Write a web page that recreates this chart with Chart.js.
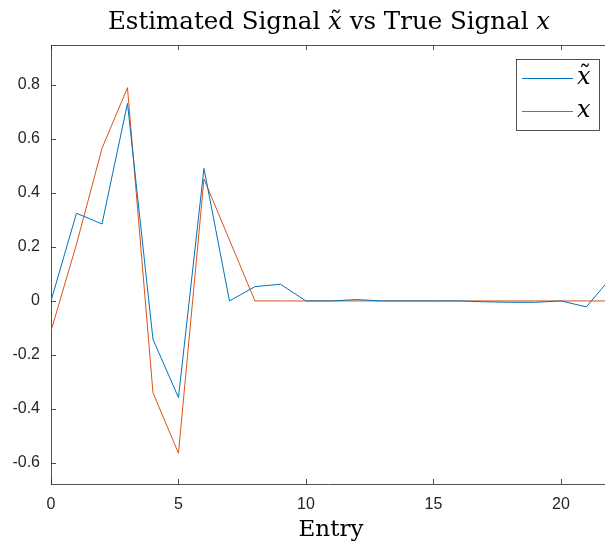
<!DOCTYPE html>
<html>
<head>
<meta charset="utf-8">
<script src="https://cdn.jsdelivr.net/npm/chart.js@4/dist/chart.umd.min.js"></script>
<style>
html,body{margin:0;padding:0;background:#fff;}
#wrap{width:605px;height:545px;position:relative;}
</style>
</head>
<body>
<div id="wrap"><canvas id="c" width="605" height="545"></canvas></div>
<script>
// ---- data ----
const entries = [0,1,2,3,4,5,6,7,8,9,10,11,12,13,14,15,16,17,18,19,20,21,22];
const estimated = [0,0.325,0.285,0.732,-0.142,-0.358,0.491,0,0.053,0.062,0,0,0.005,0,0,0,0,-0.003,-0.005,-0.005,0,-0.022,0.09];
const trueSignal = [-0.111,0.21,0.565,0.79,-0.34,-0.564,0.452,0.226,0,0,0,0,0,0,0,0,0,0,0,0,0,0,0];
const xTicks = [0,5,10,15,20];
const yTicks = [-0.6,-0.4,-0.2,0,0.2,0.4,0.6,0.8];
const seriesLabels = ['x\u0303','x'];

const BLUE = '#0072BD', RED = '#D95319', AX = '#262626';
const SERIF = '"DejaVu Serif", "Liberation Serif", serif';

const toPts = arr => arr.map((v,i)=>({x:entries[i], y:v}));

const decor = {
  id:'decor',
  afterDraw(chart){
    const ctx = chart.ctx, a = chart.chartArea;
    const xs = chart.scales.x, ys = chart.scales.y;
    ctx.save();
    // top border
    ctx.strokeStyle = AX; ctx.lineWidth = 0.8;
    ctx.beginPath(); ctx.moveTo(a.left, a.top+0.5); ctx.lineTo(a.right, a.top+0.5); ctx.stroke();
    // inward ticks
    const tl = 5;
    ctx.beginPath();
    xTicks.forEach(t=>{
      const p = Math.round(xs.getPixelForValue(t))+0.5;
      ctx.moveTo(p, a.bottom); ctx.lineTo(p, a.bottom - tl);
      ctx.moveTo(p, a.top); ctx.lineTo(p, a.top + tl);
    });
    yTicks.forEach(t=>{
      const p = Math.round(ys.getPixelForValue(t))+0.5;
      ctx.moveTo(a.left, p); ctx.lineTo(a.left + tl, p);
    });
    ctx.stroke();
    // title
    const cx = 329;
    const parts = [
      ['Estimated Signal ', 'normal'],
      ['x', 'italic', true],
      [' vs True Signal ', 'normal'],
      ['x', 'italic']
    ];
    const fs = 24.5;
    ctx.fillStyle = '#000';
    ctx.textBaseline = 'alphabetic';
    let total = 0;
    parts.forEach(p=>{ ctx.font = p[1]+' '+fs+'px '+SERIF; p.w = ctx.measureText(p[0]).width; total += p.w; });
    let x0 = cx - total/2;
    parts.forEach(p=>{
      ctx.font = p[1]+' '+fs+'px '+SERIF;
      ctx.textAlign = 'left';
      ctx.fillText(p[0], x0, 29);
      if (p[2]) {
        ctx.font = 'normal '+fs+'px '+SERIF;
        ctx.textAlign = 'center';
        ctx.fillText('\u02DC', x0 + p.w/2 + 1, 29);
      }
      x0 += p.w;
    });
    // x label
    ctx.font = 'normal 23px '+SERIF;
    ctx.textAlign = 'center';
    ctx.fillText('Entry', 331, 536);
    // legend
    const L = 516.5, T = 59.5, R = 599.5, B = 130.5;
    ctx.fillStyle = '#fff';
    ctx.fillRect(L, T, R-L, B-T);
    ctx.strokeStyle = AX; ctx.lineWidth = 0.8;
    ctx.strokeRect(L, T, R-L, B-T);
    const rows = [[BLUE, 78], [RED, 111]];
    rows.forEach((r,i)=>{
      ctx.strokeStyle = r[0]; ctx.lineWidth = 1;
      ctx.beginPath(); ctx.moveTo(522, r[1]+0.5); ctx.lineTo(573, r[1]+0.5); ctx.stroke();
      ctx.fillStyle = '#000';
      ctx.font = 'italic 24px '+SERIF;
      ctx.textAlign = 'left';
      ctx.fillText(seriesLabels[i].charAt(0), 577, r[1]+6);
      if (seriesLabels[i].length > 1) {
        ctx.font = 'normal 24px '+SERIF;
        ctx.textAlign = 'center';
        ctx.fillText('\u02DC', 585, r[1]+5);
      }
    });
    ctx.restore();
  }
};

new Chart(document.getElementById('c'), {
  type:'line',
  data:{
    datasets:[
      {label:seriesLabels[0], data:toPts(estimated), borderColor:BLUE, borderWidth:1, pointRadius:0, tension:0, fill:false},
      {label:seriesLabels[1], data:toPts(trueSignal), borderColor:RED, borderWidth:1, pointRadius:0, tension:0, fill:false}
    ]
  },
  options:{
    responsive:false,
    animation:false,
    events:[],
    layout:{padding:{top:45, right:0, left:0, bottom:0}},
    plugins:{legend:{display:false}, title:{display:false}, tooltip:{enabled:false}},
    scales:{
      x:{
        type:'linear', min:0, max:21.73,
        afterBuildTicks(s){ s.ticks = xTicks.map(v=>({value:v})); },
        afterFit(s){ s.height = 61; },
        grid:{display:true, drawOnChartArea:false, drawTicks:false},
        border:{display:true, color:AX, width:0.8},
        ticks:{color:AX, padding:11, font:{family:'"Liberation Sans", Arial, sans-serif', size:16}, maxRotation:0, callback:v=>String(v)}
      },
      y:{
        type:'linear', min:-0.678, max:0.948,
        afterBuildTicks(s){ s.ticks = yTicks.map(v=>({value:v})); },
        afterFit(s){ s.width = 51; },
        grid:{display:true, drawOnChartArea:false, drawTicks:false},
        border:{display:true, color:AX, width:0.8},
        ticks:{color:AX, padding:11, font:{family:'"Liberation Sans", Arial, sans-serif', size:16},
          callback:v=>{ const r = Math.round(v*10)/10; return r===0 ? '0' : r.toFixed(1); }}
      }
    }
  },
  plugins:[decor]
});
</script>
</body>
</html>
